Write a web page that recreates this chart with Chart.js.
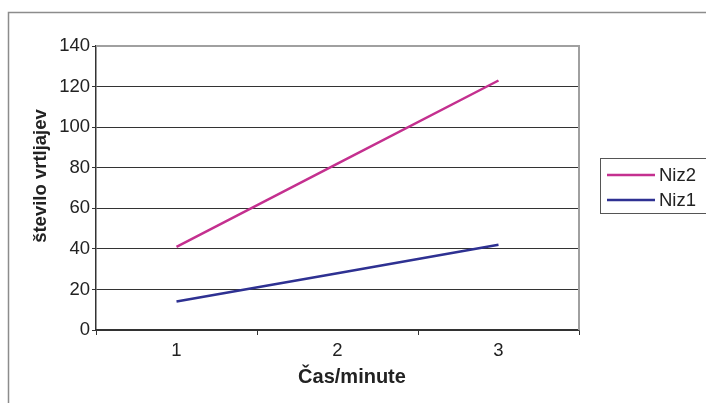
<!DOCTYPE html>
<html>
<head>
<meta charset="utf-8">
<script src="https://cdn.jsdelivr.net/npm/chart.js@4"></script>
<style>
    html, body { margin: 0; padding: 0; background: #fff; }
    #wrap { width: 706px; height: 403px; position: relative; }
</style>
</head>
<body>
<div id="wrap"><canvas id="chart" width="706" height="403"></canvas></div>
<script>
const categories = ['1', '2', '3'];
const niz2Values = [41, 82, 123];
const niz1Values = [14, 28, 42];
const seriesNames = ['Niz2', 'Niz1'];
const seriesColors = ['#c4308f', '#2e3192'];
const xTitle = 'Čas/minute';
const yTitle = 'število vrtljajev';

const FONT = '"Liberation Sans", Arial, sans-serif';

// outer frame, plot border, axis titles and the boxed legend on the right
const decorPlugin = {
    id: 'decor',
    beforeDraw(chart) {
        const ctx = chart.ctx;
        ctx.save();
        ctx.strokeStyle = '#8c8c8c';
        ctx.lineWidth = 1.5;
        ctx.beginPath();
        ctx.moveTo(8.5, 410);
        ctx.lineTo(8.5, 12.5);
        ctx.lineTo(720, 12.5);
        ctx.stroke();
        ctx.restore();
    },
    afterDraw(chart) {
        const ctx = chart.ctx;
        const area = chart.chartArea;
        ctx.save();
        ctx.strokeStyle = '#a0a0a0';
        ctx.lineWidth = 2;
        ctx.beginPath();
        ctx.moveTo(area.left, area.top);
        ctx.lineTo(area.right, area.top);
        ctx.lineTo(area.right, area.bottom);
        ctx.stroke();

        // axis titles (sit a little off-centre in the original)
        ctx.fillStyle = '#222';
        ctx.textAlign = 'center';
        ctx.textBaseline = 'alphabetic';
        ctx.font = 'bold 20px ' + FONT;
        ctx.fillText(xTitle, 352, 383);
        ctx.save();
        ctx.translate(47, 176);
        ctx.rotate(-Math.PI / 2);
        ctx.font = 'bold 18.5px ' + FONT;
        ctx.textBaseline = 'middle';
        ctx.fillText(yTitle, 0, -6);
        ctx.restore();

        // legend
        ctx.textAlign = 'left';
        ctx.strokeStyle = '#555';
        ctx.lineWidth = 1;
        ctx.strokeRect(600.5, 158.5, 110, 55);
        ctx.font = '18.5px ' + FONT;
        ctx.textBaseline = 'middle';
        chart.data.datasets.forEach((ds, i) => {
            const y = 175 + i * 25;
            ctx.strokeStyle = ds.borderColor;
            ctx.lineWidth = 2.5;
            ctx.beginPath();
            ctx.moveTo(607, y);
            ctx.lineTo(655, y);
            ctx.stroke();
            ctx.fillText(ds.label, 659, y + 1);
        });
        ctx.restore();
    }
};

new Chart(document.getElementById('chart'), {
    type: 'line',
    data: {
        labels: categories,
        datasets: [
            { label: seriesNames[0], data: niz2Values, borderColor: seriesColors[0] },
            { label: seriesNames[1], data: niz1Values, borderColor: seriesColors[1] }
        ]
    },
    options: {
        responsive: false,
        animation: false,
        layout: { padding: { left: 0, top: 46, right: 127, bottom: 0 } },
        elements: {
            line: { borderWidth: 2.5, tension: 0 },
            point: { radius: 0 }
        },
        plugins: {
            legend: { display: false },
            tooltip: { enabled: false }
        },
        scales: {
            x: {
                offset: true,
                afterFit(scale) { scale.height = 73; },
                grid: {
                    offset: true,
                    drawOnChartArea: false,
                    tickLength: 5,
                    color: '#333'
                },
                border: { color: '#333', width: 1.5 },
                ticks: { color: '#222', padding: 5, font: { family: FONT, size: 18.5 } }
            },
            y: {
                min: 0,
                max: 140,
                afterFit(scale) { scale.width = 96; },
                ticks: {
                    stepSize: 20,
                    color: '#222',
                    padding: 2,
                    font: { family: FONT, size: 18.5 }
                },
                grid: {
                    color: '#333',
                    lineWidth: 1,
                    tickLength: 4
                },
                border: { color: '#333', width: 1.5 }
            }
        }
    },
    plugins: [decorPlugin]
});
</script>
</body>
</html>
